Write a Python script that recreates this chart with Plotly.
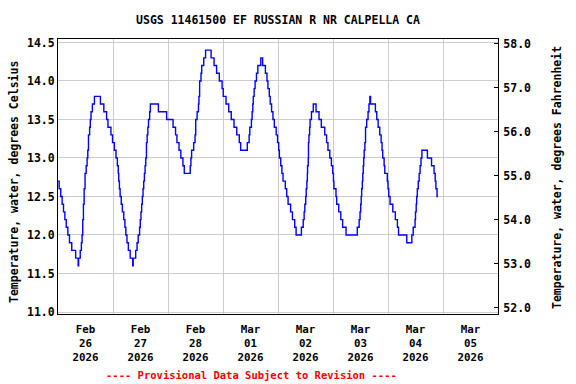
import plotly.graph_objects as go
import pandas as pd

title_text = "USGS 11461500 EF RUSSIAN R NR CALPELLA CA"
footer_text = "---- Provisional Data Subject to Revision ----"
left_title = "Temperature, water, degrees Celsius"
right_title = "Temperature, water, degrees Fahrenheit"
start_time = "2026-02-26 00:00"

# hours since start at which the reading changes, and the reading (deg C)
hours = [0, 0.5, 1.2, 1.8, 2.4, 3.0, 3.6, 4.3, 5.0, 6.0, 7.7, 8.8, 9.0, 9.7, 10.2, 10.5, 10.8, 11.1, 11.4, 11.8,
         12.3, 12.7, 13.0, 13.3, 13.8, 14.1, 14.4, 15.0, 15.9, 18.5, 20.0, 21.2, 21.8, 23.1, 23.8, 24.6, 25.3, 25.9,
         26.3, 26.5, 26.8, 27.1, 27.6, 28.1, 28.7, 29.2, 29.6, 30.1, 30.7, 31.5, 32.6, 32.8, 33.9, 34.5, 35.0, 35.6,
         35.9, 36.2, 36.5, 36.8, 37.1, 37.4, 37.7, 38.0, 38.3, 38.6, 38.9, 39.2, 39.5, 40.0, 40.3, 43.8, 47.4, 50.2,
         51.3, 51.9, 52.8, 53.6, 54.5, 55.1, 57.7, 58.0, 58.3, 59.2, 59.8, 60.1, 60.7, 61.3, 61.5, 61.8, 62.4, 62.7,
         63.6, 64.4, 66.8, 68.1, 69.2, 70.4, 71.6, 72.1, 73.3, 74.5, 75.6, 76.8, 78.0, 79.1, 79.7, 82.6, 83.4, 83.7,
         84.4, 84.7, 85.0, 85.2, 85.6, 86.0, 86.6, 87.2, 88.5, 89.3, 90.5, 91.2, 91.6, 92.2, 92.6, 93.2, 93.8, 94.4,
         95.2, 95.8, 96.3, 96.6, 97.2, 97.7, 98.2, 99.2, 99.8, 100.4, 101.5, 102.3, 103.3, 103.9, 106.2, 107.0, 107.4,
         107.7, 108.1, 108.3, 108.6, 108.8, 108.9, 109.2, 109.3, 109.5, 109.8, 110.0, 110.6, 111.4, 112.6, 113.9,
         114.9, 116.4, 117.2, 117.8, 118.6, 119.3, 119.9, 120.2, 120.4, 121.3, 121.6, 122.5, 123.4, 124.2, 125.7,
         130.6, 131.4, 131.8, 132.1, 132.3, 132.5, 132.8, 133.0, 133.2, 133.4, 133.6, 133.9, 134.2, 134.7, 135.3,
         135.7, 136.1, 136.4, 138.5, 139.1, 139.7, 140.4, 141.0, 141.4, 141.7, 142.3, 142.6, 143.7, 144.0, 144.3,
         144.9, 146.1, 147.2, 148.1, 148.6, 152.2, 154.4, 155.0, 155.8, 156.0, 156.3, 156.5, 156.8, 157.2, 157.6,
         158.0, 158.4, 158.8, 161.2, 163.0, 164.1, 164.6, 164.9, 165.4, 165.8]
temp_c = [12.7, 12.6, 12.5, 12.4, 12.3, 12.2, 12.1, 12.0, 11.9, 11.8, 11.7, 11.6, 11.7, 11.8, 11.9, 12.0, 12.2, 12.4, 12.6, 12.8,
          12.9, 13.0, 13.1, 13.3, 13.4, 13.5, 13.6, 13.7, 13.8, 13.7, 13.6, 13.5, 13.4, 13.3, 13.2, 13.1, 13.0, 12.9,
          12.8, 12.7, 12.6, 12.5, 12.4, 12.3, 12.2, 12.1, 12.0, 11.9, 11.8, 11.7, 11.6, 11.7, 11.8, 11.9, 12.0, 12.1,
          12.2, 12.3, 12.4, 12.5, 12.6, 12.7, 12.8, 12.9, 13.0, 13.2, 13.3, 13.4, 13.5, 13.6, 13.7, 13.6, 13.5, 13.4,
          13.3, 13.2, 13.1, 13.0, 12.9, 12.8, 12.9, 13.0, 13.1, 13.2, 13.3, 13.5, 13.6, 13.7, 13.8, 14.0, 14.1, 14.2,
          14.3, 14.4, 14.3, 14.2, 14.1, 14.0, 13.9, 13.8, 13.7, 13.6, 13.5, 13.4, 13.3, 13.2, 13.1, 13.2, 13.3, 13.4,
          13.5, 13.6, 13.7, 13.8, 13.9, 14.0, 14.1, 14.2, 14.3, 14.2, 14.1, 14.0, 13.9, 13.8, 13.7, 13.6, 13.5, 13.4,
          13.3, 13.2, 13.1, 13.0, 12.9, 12.8, 12.7, 12.6, 12.5, 12.4, 12.3, 12.2, 12.1, 12.0, 12.1, 12.2, 12.3,
          12.4, 12.5, 12.6, 12.7, 12.8, 12.9, 13.0, 13.2, 13.3, 13.4, 13.5, 13.6, 13.7, 13.6, 13.5,
          13.4, 13.3, 13.2, 13.1, 13.0, 12.9, 12.8, 12.7, 12.6, 12.5, 12.4, 12.3, 12.2, 12.1, 12.0,
          12.1, 12.2, 12.3, 12.4, 12.5, 12.6, 12.7, 12.8, 12.9, 13.0, 13.1, 13.2, 13.4, 13.5, 13.6,
          13.7, 13.8, 13.7, 13.6, 13.5, 13.4, 13.3, 13.2, 13.1, 13.0, 12.9, 12.8, 12.7, 12.6, 12.5,
          12.4, 12.3, 12.2, 12.1, 12.0, 11.9, 12.0, 12.1, 12.2, 12.3, 12.4, 12.5, 12.6, 12.7, 12.8,
          12.9, 13.0, 13.1, 13.0, 12.9, 12.8, 12.7, 12.6, 12.5, 12.5]

c_range = [10.974, 14.545]
f_range = [51.854, 58.104]
x_range = ["2026-02-26 00:00", "2026-03-06 00:00"]

times = pd.Timestamp(start_time) + pd.to_timedelta(hours, unit="h")
temp_f = [c * 9 / 5 + 32 for c in temp_c]

FONT = "DejaVu Sans Mono"

fig = go.Figure()
fig.add_trace(go.Scatter(x=times, y=temp_c, mode="lines", line=dict(color="#0000ff", width=1.4, shape="hv"),
                         showlegend=False, hoverinfo="skip"))
fig.add_trace(go.Scatter(x=times, y=temp_f, mode="lines", line=dict(color="rgba(0,0,0,0)", width=0),
                         yaxis="y2", showlegend=False, hoverinfo="skip"))

fig.update_layout(
    width=576, height=384,
    margin=dict(l=58, r=78, t=39, b=70),
    paper_bgcolor="white", plot_bgcolor="white",
    font=dict(family=FONT, size=11, color="black", weight="bold"),
    title=dict(text=title_text, x=(58 + 498) / 2 / 576, xanchor="center", xref="container",
               y=1 - 20 / 384, yanchor="middle", yref="container",
               font=dict(family=FONT, size=11.5, color="black", weight="bold")),
    xaxis=dict(type="date", range=x_range, dtick=86400000, tick0="2026-02-26",
               tickformat="%b<br>%d<br>%Y", ticklabelmode="period", ticklabelstandoff=5,
               showgrid=True, gridcolor="#cccccc", gridwidth=1,
               showline=True, linecolor="black", linewidth=1, mirror=True,
               ticks="", tickfont=dict(size=10.8, family=FONT, weight="bold")),
    yaxis=dict(range=c_range, dtick=0.5, tick0=11, tickformat=".1f",
               showgrid=True, gridcolor="#cccccc", gridwidth=1, zeroline=False,
               showline=True, linecolor="black", linewidth=1, mirror=True,
               ticks="", tickfont=dict(size=11.5, family=FONT, weight="bold")),
    yaxis2=dict(range=f_range, dtick=1, tick0=52, tickformat=".1f", overlaying="y", side="right",
                showgrid=False, zeroline=False, showline=True, linecolor="black", linewidth=1,
                ticks="inside", ticklen=4, tickcolor="black", ticklabelstandoff=2,
                tickfont=dict(size=11.5, family=FONT, weight="bold")),
    annotations=[
        dict(text=left_title, xref="paper", yref="paper", x=(14 - 58) / 440, y=(314 - 182) / 275,
             xanchor="center", yanchor="middle", textangle=-90, showarrow=False,
             font=dict(family=FONT, size=11.5, color="black", weight="bold")),
        dict(text=right_title, xref="paper", yref="paper", x=(557 - 58) / 440, y=(314 - 178) / 275,
             xanchor="center", yanchor="middle", textangle=-90, showarrow=False,
             font=dict(family=FONT, size=11.5, color="black", weight="bold")),
        dict(text=footer_text, xref="paper", yref="paper", x=(251 - 58) / 440, y=(314 - 375) / 275,
             xanchor="center", yanchor="middle", showarrow=False,
             font=dict(family=FONT, size=10.5, color="red", weight="bold")),
    ],
)

fig.write_html("out.html", config={"displayModeBar": False},
               post_script="document.body.style.margin='0';document.body.style.padding='0';")
